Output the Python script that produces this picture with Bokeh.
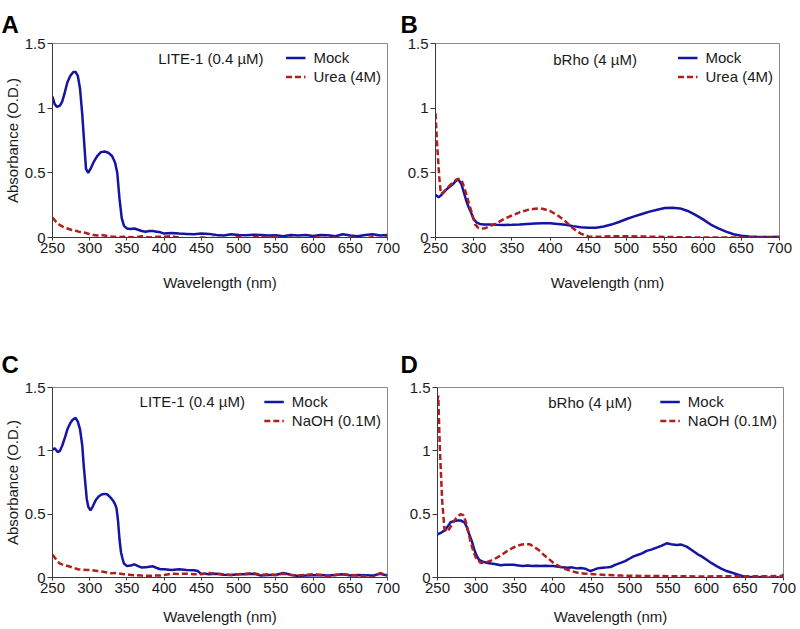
from bokeh.plotting import figure
from bokeh.layouts import column, row
from bokeh.models import Range1d, FixedTicker, NumeralTickFormatter, Legend, LegendItem, Label
from bokeh.embed import file_html
from bokeh.resources import INLINE

# ---------------- data ----------------
x_ticks = [250, 300, 350, 400, 450, 500, 550, 600, 650, 700]
y_ticks = [0, 0.5, 1, 1.5]

noise_wl = [400, 410, 420, 430, 440, 450, 460, 470, 480, 490, 500, 510, 520, 530, 540, 550,
            560, 570, 580, 590, 600, 610, 620, 630, 640, 650, 660, 670, 680, 690, 700]

# Panel A: LITE-1, Mock vs Urea
wl_a_mock = [250, 253, 256, 260, 263, 266, 270, 274, 278, 281, 284, 287, 290, 292, 295, 298, 301,
             305, 310, 315, 320, 325, 330, 334, 337, 340, 343, 346, 350, 355, 360, 365, 370, 375,
             380, 385, 390, 395] + noise_wl
abs_a_mock = [1.09, 1.03, 1.01, 1.02, 1.05, 1.11, 1.20, 1.25, 1.28, 1.28, 1.25, 1.15, 0.95, 0.78,
              0.53, 0.50, 0.53, 0.58, 0.63, 0.66, 0.665, 0.655, 0.63, 0.58, 0.50, 0.30, 0.15, 0.09,
              0.07, 0.065, 0.07, 0.06, 0.05, 0.045, 0.05, 0.05, 0.045, 0.04,
              0.03, 0.035, 0.03, 0.028, 0.025, 0.03, 0.028, 0.02, 0.015, 0.025, 0.02, 0.018, 0.022,
              0.02, 0.015, 0.018, 0.01, 0.02, 0.015, 0.02, 0.012, 0.02, 0.018, 0.01, 0.025, 0.015,
              0.01, 0.02, 0.025, 0.015, 0.02]
wl_a_urea = [250, 255, 260, 265, 270, 275, 280, 285, 290, 295, 300, 305, 310, 315, 320, 325, 330,
             335, 340, 345, 350, 360, 370, 380, 390] + noise_wl
abs_a_urea = [0.155, 0.12, 0.095, 0.08, 0.07, 0.06, 0.055, 0.045, 0.04, 0.035, 0.025, 0.02, 0.015,
              0.02, 0.015, 0.01, 0.005, 0.005, 0.003, 0.005, 0.005, 0.0, 0.01, 0.0, 0.005,
              0.005, 0.01, 0.0, -0.01, -0.01, 0.0, -0.005, 0.0, -0.01, -0.01, 0.005, -0.01, 0.0,
              0.01, -0.005, 0.005, -0.01, 0.0, -0.015, -0.02, 0.0, 0.0, -0.005, 0.0, -0.015, 0.0,
              -0.005, -0.01, 0.005, -0.01, 0.01]

# Panel B: bRho, Mock vs Urea
wl_b_mock = [250, 254, 258, 262, 266, 270, 274, 278, 281, 284, 287, 290, 293, 296, 300, 304, 308,
             313, 320, 330, 340, 350, 360, 370, 380, 390, 400, 410, 420, 430, 440, 450, 460, 470,
             480, 490, 500, 510, 520, 530, 540, 550, 560, 570, 580, 590, 600, 610, 620, 630, 640,
             650, 660, 670, 680, 690, 700]
abs_b_mock = [0.33, 0.31, 0.33, 0.36, 0.38, 0.40, 0.42, 0.445, 0.44, 0.41, 0.35, 0.29, 0.24, 0.20,
              0.14, 0.115, 0.105, 0.10, 0.10, 0.098, 0.097, 0.098, 0.10, 0.105, 0.108, 0.11, 0.11,
              0.105, 0.098, 0.088, 0.08, 0.075, 0.076, 0.085, 0.10, 0.12, 0.143, 0.163, 0.182,
              0.20, 0.215, 0.228, 0.23, 0.225, 0.205, 0.175, 0.14, 0.10, 0.07, 0.045, 0.025, 0.014,
              0.008, 0.005, 0.004, 0.004, 0.005]
wl_b_urea = [250, 252, 255, 257, 261, 265, 270, 274, 278, 282, 285, 289, 293, 297, 302, 306, 310,
             315, 320, 330, 340, 350, 360, 370, 380, 385, 390, 400, 410, 420, 430, 440, 450, 460,
             480, 500, 520, 550, 600, 650, 700]
abs_b_urea = [0.96, 0.73, 0.46, 0.34, 0.35, 0.38, 0.41, 0.43, 0.45, 0.455, 0.43, 0.36, 0.28, 0.20,
              0.10, 0.075, 0.068, 0.072, 0.085, 0.11, 0.145, 0.17, 0.195, 0.212, 0.222, 0.225,
              0.222, 0.205, 0.17, 0.125, 0.07, 0.03, 0.008, 0.005, 0.01, 0.01, 0.008, 0.004, 0.0,
              0.0, 0.0]

# Panel C: LITE-1, Mock vs NaOH
wl_c_mock = [250, 253, 257, 260, 263, 267, 270, 274, 277, 281, 284, 287, 290, 292, 294, 296, 298,
             301, 304, 308, 312, 316, 320, 324, 328, 331, 334, 336, 338, 340, 342, 344, 346, 350,
             355, 360, 365, 370, 375, 380, 385, 390, 395, 400, 410, 420, 430, 440, 445, 449,
             455, 460, 470, 480, 490, 500, 510, 520, 530, 540, 550, 560, 570, 580, 590, 600, 610,
             620, 630, 640, 650, 660, 670, 680, 690, 700]
abs_c_mock = [1.01, 1.02, 0.99, 1.00, 1.04, 1.11, 1.17, 1.22, 1.245, 1.26, 1.23, 1.17, 1.04, 0.88,
              0.75, 0.62, 0.56, 0.53, 0.56, 0.61, 0.64, 0.655, 0.66, 0.655, 0.63, 0.61, 0.58, 0.545,
              0.45, 0.30, 0.20, 0.15, 0.11, 0.09, 0.095, 0.104, 0.09, 0.078, 0.08, 0.085, 0.088,
              0.075, 0.065, 0.065, 0.06, 0.065, 0.06, 0.057, 0.052, 0.03, 0.03, 0.025, 0.03,
              0.022, 0.02, 0.025, 0.025, 0.03, 0.015, 0.02, 0.02, 0.035, 0.022, 0.012, 0.015,
              0.018, 0.02, 0.015, 0.02, 0.025, 0.015, 0.02, 0.018, 0.015, 0.03, 0.015]
wl_c_naoh = [250, 254, 257, 260, 263, 268, 274, 279, 284, 290, 297, 303, 310, 318, 328, 336, 346,
             353, 360, 370, 378, 386, 395] + noise_wl
abs_c_naoh = [0.18, 0.15, 0.125, 0.11, 0.104, 0.095, 0.085, 0.075, 0.065, 0.062, 0.06, 0.058,
              0.052, 0.045, 0.034, 0.035, 0.026, 0.022, 0.018, 0.015, 0.013, 0.015, 0.016,
              0.02, 0.03, 0.028, 0.03, 0.025, 0.025, 0.035, 0.03, 0.025, 0.02, 0.025, 0.03, 0.035,
              0.02, 0.025, 0.02, 0.03, 0.02, 0.015, 0.02, 0.025, 0.02, 0.01, 0.02, 0.025, 0.02,
              0.015, 0.01, 0.0, 0.035, 0.02]

# Panel D: bRho, Mock vs NaOH
wl_d_mock = [250, 255, 259, 263, 267, 271, 276, 280, 285, 288, 291, 295, 298, 301, 304, 309, 315,
             320, 326, 332, 338, 344, 349, 355, 361, 367, 373, 379, 384, 390, 396, 401, 407, 413,
             419, 425, 431, 436, 442, 446, 449, 453, 458, 462, 468, 475, 481, 488, 494, 500, 505,
             511, 516, 522, 528, 535, 541, 548, 554, 561, 567, 574, 581, 588, 594, 600, 606, 613,
             619, 626, 632, 639, 645, 652, 658, 664, 670, 676, 682, 687, 692, 696, 700]
abs_d_mock = [0.34, 0.355, 0.37, 0.40, 0.436, 0.445, 0.45, 0.45, 0.436, 0.40, 0.346, 0.28, 0.218,
              0.17, 0.14, 0.125, 0.115, 0.11, 0.105, 0.097, 0.10, 0.10, 0.10, 0.095, 0.09, 0.095,
              0.09, 0.092, 0.09, 0.093, 0.09, 0.09, 0.085, 0.08, 0.077, 0.08, 0.072, 0.075, 0.07,
              0.058, 0.051, 0.06, 0.072, 0.075, 0.078, 0.082, 0.1, 0.115, 0.13, 0.15, 0.167, 0.18,
              0.19, 0.21, 0.22, 0.236, 0.25, 0.27, 0.262, 0.256, 0.26, 0.244, 0.215, 0.185, 0.165,
              0.14, 0.115, 0.09, 0.07, 0.051, 0.04, 0.026, 0.015, 0.0, 0.004, -0.005, 0.005,
              -0.008, 0.0, -0.013, 0.002, -0.005, 0.026]
wl_d_naoh = [250, 251, 253, 256, 259, 263, 267, 272, 276, 280, 284, 287, 290, 293, 297, 300, 306,
             315, 322, 328, 335, 341, 348, 354, 360, 365, 370, 375, 382, 388, 395, 401, 408, 414,
             422, 432, 442, 453, 470, 490, 505, 530, 560, 592, 620, 650, 680, 700]
abs_d_naoh = [1.40, 1.436, 1.03, 0.615, 0.385, 0.36, 0.40, 0.45, 0.48, 0.50, 0.49, 0.436, 0.36,
              0.282, 0.20, 0.154, 0.115, 0.123, 0.14, 0.159, 0.185, 0.21, 0.235, 0.251, 0.26,
              0.264, 0.262, 0.244, 0.215, 0.18, 0.145, 0.115, 0.09, 0.072, 0.055, 0.038, 0.03,
              0.026, 0.02, 0.015, 0.013, 0.012, 0.01, 0.008, 0.01, 0.01, 0.01, 0.012]

FONT = "Liberation Sans"
BLUE = "#1414A6"
RED = "#B01E1E"


def make_panel(letter, title_off, title_standoff, wl_m, ab_m, wl_t, ab_t, t_label, note,
               note_x, note_y, ylabel, height, b_left, b_right, b_top, b_bottom, xlab_standoff):
    p = figure(width=400, height=height, output_backend="svg", toolbar_location=None,
               x_range=Range1d(250, 700), y_range=Range1d(0, 1.5), title=letter,
               min_border_left=b_left, min_border_right=b_right,
               min_border_top=b_top, min_border_bottom=b_bottom)
    p.title.text_font = FONT
    p.title.text_font_size = "24px"
    p.title.text_font_style = "bold"
    p.title.text_color = "#000000"
    p.title.align = "left"
    p.title.offset = title_off
    p.title.standoff = title_standoff

    p.grid.visible = False
    p.outline_line_color = "#8a8a8a"
    p.outline_line_width = 1
    p.background_fill_color = "white"
    p.border_fill_color = "white"

    for ax in (p.xaxis[0], p.yaxis[0]):
        ax.axis_line_color = "#3a3a3a"
        ax.major_tick_line_color = "#3a3a3a"
        ax.minor_tick_line_color = None
        ax.major_tick_in = 0
        ax.major_label_text_font = FONT
        ax.major_label_text_font_size = "15px"
        ax.major_label_text_color = "#1a1a1a"
        ax.axis_label_text_font = FONT
        ax.axis_label_text_font_size = "15px"
        ax.axis_label_text_font_style = "normal"
        ax.axis_label_text_color = "#1a1a1a"
    p.xaxis.ticker = FixedTicker(ticks=x_ticks)
    p.yaxis.ticker = FixedTicker(ticks=y_ticks)
    p.yaxis.formatter = NumeralTickFormatter(format="0.[0]")
    p.xaxis.major_tick_out = 3
    p.yaxis.major_tick_out = 5
    p.xaxis.major_label_standoff = 2
    p.yaxis.major_label_standoff = 2
    p.xaxis.axis_label = "Wavelength (nm)"
    p.xaxis.axis_label_standoff = xlab_standoff
    if ylabel:
        p.yaxis.axis_label = "Absorbance (O.D.)"
        p.yaxis.axis_label_standoff = 1

    r1 = p.line(wl_m, ab_m, line_color=BLUE, line_width=2.5)
    r2 = p.line(wl_t, ab_t, line_color=RED, line_width=2.5, line_dash="6 3")

    leg = Legend(items=[LegendItem(label="Mock", renderers=[r1]),
                        LegendItem(label=t_label, renderers=[r2])],
                 location="top_right", border_line_alpha=0, background_fill_alpha=0,
                 label_text_font=FONT, label_text_font_size="15px", label_text_color="#1a1a1a",
                 glyph_width=20, glyph_height=17, label_height=17, spacing=2,
                 padding=4, margin=2, label_standoff=8)
    p.add_layout(leg)

    p.add_layout(Label(x=note_x, y=note_y, text=note, text_font=FONT, text_font_size="15px",
                       text_color="#1a1a1a", text_baseline="middle", text_align="left"))
    return p


pA = make_panel("A", -51, 12, wl_a_mock, abs_a_mock, wl_a_urea, abs_a_urea, "Urea (4M)",
                "LITE-1 (0.4 \u00b5M)", 392, 1.385, True,
                310, 52, 13, 43, 73, 18)
pB = make_panel("B", -35, 12, wl_b_mock, abs_b_mock, wl_b_urea, abs_b_urea, "Urea (4M)",
                "bRho (4 \u00b5M)", 404, 1.38, False,
                310, 35, 21, 38, 73, 18)
pC = make_panel("C", -51, 20, wl_c_mock, abs_c_mock, wl_c_naoh, abs_c_naoh, "NaOH (0.1M)",
                "LITE-1 (0.4 \u00b5M)", 367, 1.39, True,
                318, 52, 13, 77, 50, 12)
pD = make_panel("D", -37, 20, wl_d_mock, abs_d_mock, wl_d_naoh, abs_d_naoh, "NaOH (0.1M)",
                "bRho (4 \u00b5M)", 394, 1.385, False,
                318, 37, 17, 72, 51, 12)

layout = column(row(pA, pB), row(pC, pD))
open("out.html", "w").write(file_html(layout, INLINE))
